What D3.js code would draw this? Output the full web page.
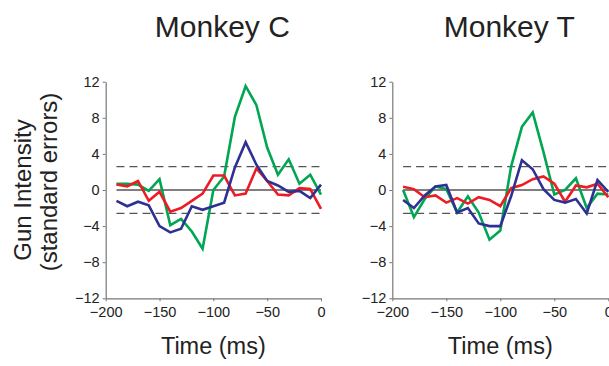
<!DOCTYPE html>
<meta charset="utf-8">
<script src="https://d3js.org/d3.v7.min.js"></script>
<style>
  body { margin: 0; background: #fff; }
  text { font-family: "Liberation Sans", Arial, sans-serif; fill: #222; }
</style>
<div id="chart"></div>
<script>
// Time points (ms) shared by both monkeys.
var times = [-190, -180, -170, -160, -150, -140, -130, -120, -110, -100,
             -90, -80, -70, -60, -50, -40, -30, -20, -10, 0];

// Monkey C
var cGreen = [0.7, 0.7, 0.6, -0.1, 1.2, -3.9, -3.2, -4.6, -6.5, 0,
              1.5, 8.1, 11.5, 9.4, 4.7, 1.7, 3.4, 0.7, 1.7, -0.5];
var cRed   = [0.6, 0.4, 1.0, -1.2, -0.2, -2.4, -2.0, -1.2, -0.4, 1.6,
              1.6, -0.6, -0.4, 2.4, 1.0, -0.5, -0.6, 0.2, 0.1, -2.1];
var cBlue  = [-1.2, -1.8, -1.3, -1.7, -4.0, -4.7, -4.3, -1.8, -2.2, -1.8,
              -1.4, 2.5, 5.3, 2.8, 1.0, 0.5, -0.2, -0.1, -0.9, 0.6];

// Monkey T
var tGreen = [0, -3.0, -1.0, 0.4, 0.1, -2.5, -0.7, -2.5, -5.5, -4.5,
              2.6, 7.0, 8.6, 4.2, -0.5, 0, 1.3, -2.0, -0.4, -0.5];
var tRed   = [0.35, 0.1, -0.8, -0.6, -1.4, -0.9, -1.5, -0.8, -1.1, -1.8,
              0.2, 0.55, 1.2, 1.5, 0.7, -1.3, 0.5, 0.3, 0.7, -0.8];
var tBlue  = [-1.1, -2.0, -0.6, 0.4, 0.55, -2.5, -2.0, -3.7, -4.0, -4.0,
              -0.7, 3.3, 2.3, 0.1, -1.1, -1.4, -1.0, -2.6, 1.1, -0.2];

var yTicks = [-12, -8, -4, 0, 4, 8, 12];
var xTicks = [-200, -150, -100, -50, 0];
var threshold = 2.58;

var colors = {green: "#00a651", red: "#ed1c24", blue: "#2e3192"};

var width = 609, height = 366;
var svg = d3.select("#chart").append("svg")
    .attr("width", width)
    .attr("height", height);

var y = d3.scaleLinear().domain([-12, 12]).range([298.3, 81.7]);

function panel(left, right, title, series) {
  var x = d3.scaleLinear().domain([-200, 0]).range([left, right]);
  var g = svg.append("g");

  // Titulo del panel.
  g.append("text")
    .attr("x", (left + right) / 2 + 9)
    .attr("y", 37)
    .attr("text-anchor", "middle")
    .style("font-size", "30px")
    .text(title);

  // Eje y.
  var ya = g.append("g")
    .attr("transform", "translate(" + left + ",0)")
    .call(d3.axisLeft(y).tickValues(yTicks).tickSize(3).tickSizeOuter(0).tickPadding(3));
  // Eje x.
  var xa = g.append("g")
    .attr("transform", "translate(0," + y(-12) + ")")
    .call(d3.axisBottom(x).tickValues(xTicks).tickSize(3).tickSizeOuter(0).tickPadding(5));
  [ya, xa].forEach(function(a) {
    a.select(".domain").attr("stroke", "#777").attr("stroke-width", 1.2);
    a.selectAll(".tick line").attr("stroke", "#777");
    a.selectAll("text").style("font-size", "14.5px").attr("fill", "#222");
  });

  // Linea de cero y umbrales.
  g.append("line")
    .attr("x1", x(times[0])).attr("x2", x(0))
    .attr("y1", y(0)).attr("y2", y(0))
    .attr("stroke", "#000").attr("stroke-width", 1.2);
  [threshold, -threshold].forEach(function(v) {
    g.append("line")
      .attr("x1", x(times[0])).attr("x2", x(0))
      .attr("y1", y(v)).attr("y2", y(v))
      .attr("stroke", "#555").attr("stroke-width", 1.2)
      .attr("stroke-dasharray", "8,5");
  });

  var line = d3.line()
    .x(function(d, i) { return x(times[i]); })
    .y(function(d) { return y(d); });

  series.forEach(function(s) {
    g.append("path")
      .datum(s.values)
      .attr("fill", "none")
      .attr("stroke", s.color)
      .attr("stroke-width", 2.6)
      .attr("stroke-linejoin", "miter")
      .attr("d", line);
  });

  // Etiqueta eje x.
  g.append("text")
    .attr("x", (left + right) / 2)
    .attr("y", 354)
    .attr("text-anchor", "middle")
    .style("font-size", "23.5px")
    .text("Time (ms)");
}

panel(105.7, 321, "Monkey C", [
  {values: cGreen, color: colors.green},
  {values: cRed, color: colors.red},
  {values: cBlue, color: colors.blue}
]);
panel(392.3, 608.3, "Monkey T", [
  {values: tGreen, color: colors.green},
  {values: tRed, color: colors.red},
  {values: tBlue, color: colors.blue}
]);

// Etiqueta eje y.
var yl = svg.append("text")
  .attr("transform", "translate(31,190) rotate(-90)")
  .attr("text-anchor", "middle")
  .style("font-size", "24px");
yl.text("Gun Intensity");
svg.append("text")
  .attr("transform", "translate(57,182) rotate(-90)")
  .attr("text-anchor", "middle")
  .style("font-size", "24px")
  .text("(standard errors)");
</script>
